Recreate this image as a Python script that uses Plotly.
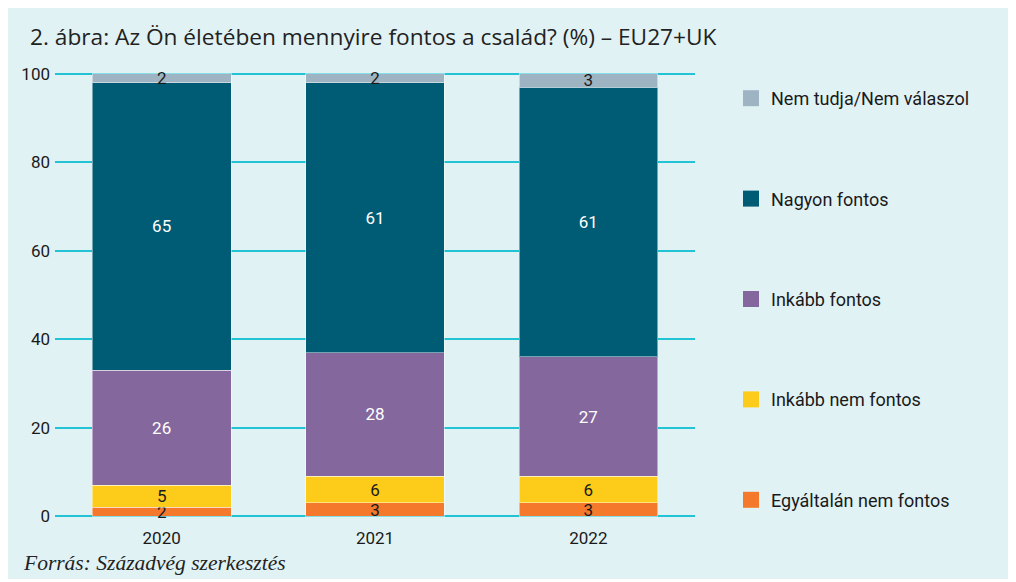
import plotly.graph_objects as go

evek = ["2020", "2021", "2022"]
kategoriak = ["Egyáltalán nem fontos", "Inkább nem fontos", "Inkább fontos",
              "Nagyon fontos", "Nem tudja/Nem válaszol"]
egyaltalan = [2, 3, 3]
inkabb_nem = [5, 6, 6]
inkabb = [26, 28, 27]
nagyon = [65, 61, 61]
nem_tudja = [2, 2, 3]
ertekek = [egyaltalan, inkabb_nem, inkabb, nagyon, nem_tudja]
szinek = ["#f4792c", "#fdcc1a", "#84679d", "#005c75", "#9fb4c3"]
szoveg_szinek = ["#1a1a1a", "#1a1a1a", "#ffffff", "#ffffff", "#1a1a1a"]

# plot terulet pixelben (a figura bal felso sarkahoz kepest)
L, R, T, B = 47, 329, 64, 72
W, H = 1016 - L - R, 582 - T - B


def px_x(x):
    return (x - L) / W


def px_y(y):
    return (582 - B - y) / H


fig = go.Figure()

# oszlopok (alulrol felfele)
for nev, y, szin, tszin in zip(kategoriak, ertekek, szinek, szoveg_szinek):
    fig.add_trace(go.Bar(
        x=evek, y=y, name=nev, marker_color=szin,
        marker_line=dict(width=1, color="rgba(255,255,255,0.45)"),
        text=y, textposition="inside", insidetextanchor="middle", textangle=0,
        textfont=dict(family="Roboto", size=17, color=tszin),
        showlegend=False,
    ))

# jelmagyarazat (felulrol lefele)
for nev, szin in zip(kategoriak[::-1], szinek[::-1]):
    fig.add_trace(go.Scatter(
        x=[None], y=[None], mode="markers", name=nev, legendgroup=nev,
        marker=dict(symbol="square", size=16, color=szin),
    ))

fig.update_layout(
    width=1016, height=582,
    barmode="stack", bargap=0.35,
    paper_bgcolor="#e1f2f5", plot_bgcolor="rgba(0,0,0,0)",
    margin=dict(l=L, r=R, t=T, b=B, autoexpand=False),
    font=dict(family="Roboto", size=17, color="#1a1a1a"),
    uniformtext=dict(minsize=17, mode="show"),
    title=dict(text="2. ábra: Az Ön életében mennyire fontos a család? (%) – EU27+UK",
               font=dict(family="Open Sans", size=22.7, color="#222222"),
               x=22 / 1016, xanchor="left", y=1 - 29 / 582, yanchor="middle",
               pad=dict(l=0, r=0, t=0, b=0)),
    legend=dict(traceorder="grouped", tracegroupgap=74, itemsizing="trace",
                maxheight=560,
                x=px_x(723), xanchor="left", y=px_y(72), yanchor="top",
                font=dict(family="Roboto", size=18, color="#1a1a1a"),
                bgcolor="rgba(0,0,0,0)"),
    xaxis=dict(showgrid=False, showline=False, ticks="", ticklabelstandoff=8,
               tickfont=dict(size=17)),
    yaxis=dict(range=[-0.4, 100.4], tickvals=[0, 20, 40, 60, 80, 100],
               showgrid=True, gridcolor="#22c3d5",
               gridwidth=2, zeroline=False, showline=False, ticks="",
               ticklabelstandoff=4, tickfont=dict(size=17)),
    shapes=[dict(type="rect", xref="paper", yref="paper",
                 x0=px_x(-10), x1=px_x(1100),
                 y0=px_y(600), y1=px_y(571),
                 fillcolor="#ffffff", line_width=0)],
    annotations=[dict(text="<i>Forrás: Századvég szerkesztés</i>", showarrow=False,
                      xref="paper", yref="paper",
                      x=px_x(13), xanchor="left",
                      y=px_y(555), yanchor="middle",
                      font=dict(family="Liberation Serif", size=21.5, color="#222222"))],
)

fig.write_html("out.html")
